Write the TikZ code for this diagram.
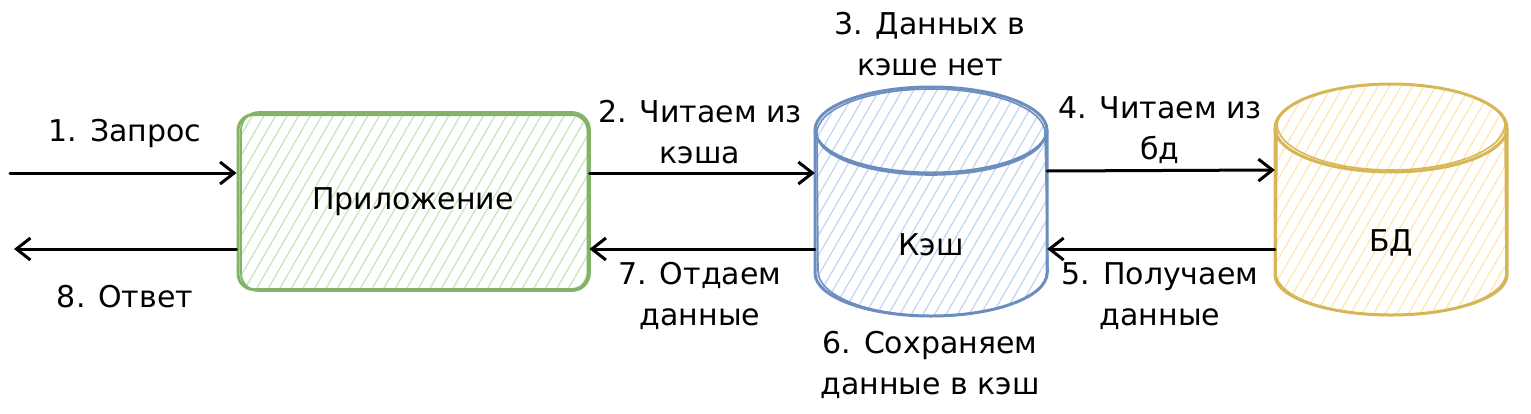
\documentclass[tikz,border=0pt]{standalone}
\usepackage{fontspec}
\setmainfont{DejaVu Sans}
\usetikzlibrary{arrows.meta,patterns.meta,calc}
\definecolor{gstroke}{HTML}{82B366}
\definecolor{ghatch}{HTML}{C9E5BD}
\definecolor{bstroke}{HTML}{6C8EBF}
\definecolor{bhatch}{HTML}{C3D7F3}
\definecolor{ystroke}{HTML}{D6B656}
\definecolor{yhatch}{HTML}{FBE9B0}
\tikzset{
  txt/.style={font=\fontsize{30}{41}\selectfont, align=center, inner sep=0pt},
  arr/.style={line width=3pt, line cap=round, -{Straight Barb[length=14pt,width=22pt,line width=3pt]}},
  hatchg/.style={pattern={Lines[angle=60,distance=10pt,line width=1.3pt]}, pattern color=ghatch},
  hatchb/.style={pattern={Lines[angle=60,distance=10pt,line width=1.3pt]}, pattern color=bhatch},
  hatchy/.style={pattern={Lines[angle=60,distance=10pt,line width=1.3pt]}, pattern color=yhatch},
  holder/.style={txt, minimum width=232pt},
}
\begin{document}
\begin{tikzpicture}[x=1pt,y=-1pt]
\useasboundingbox (0,0) rectangle (1531,413);
% application
\node[txt, hatchg, draw=gstroke, line width=3pt, rounded corners=16pt,
      minimum width=350pt, minimum height=175pt] (app) at (413,202) {Приложение};
\draw[gstroke, line width=1.8pt, rounded corners=18pt] (241,112) rectangle (590,291);
% cache cylinder
\fill[hatchb] (815,130) -- (815,273) arc (180:360:116pt and 43pt) -- (1047,130) arc (0:180:116pt and 43pt) -- cycle;
\draw[bstroke, line width=3pt, line join=round] (815,130) -- (815,273) arc (180:360:116pt and 43pt) -- (1047,130) arc (0:180:116pt and 43pt) -- cycle;
\draw[bstroke, line width=3pt] (815,130) arc (180:360:116pt and 43pt);
\draw[bstroke, line width=1.6pt] (817,127) -- (818,271) arc (180:360:115pt and 45pt) -- (1045,133) arc (0:180:114pt and 44pt);
\draw[bstroke, line width=1.6pt] (817,134) arc (180:360:114pt and 41pt);
\node[holder] (cache) at (931,245) {Кэш};
% db cylinder
\fill[hatchy] (1275,128) -- (1275,275) arc (180:360:116pt and 40pt) -- (1507,128) arc (0:180:116pt and 44pt) -- cycle;
\draw[ystroke, line width=3pt, line join=round] (1275,128) -- (1275,275) arc (180:360:116pt and 40pt) -- (1507,128) arc (0:180:116pt and 44pt) -- cycle;
\draw[ystroke, line width=3pt] (1275,128) arc (180:360:116pt and 44pt);
\draw[ystroke, line width=1.6pt] (1277,131) -- (1276,273) arc (180:360:115pt and 42pt) -- (1505,126) arc (0:180:114pt and 42pt);
\draw[ystroke, line width=1.6pt] (1277,124) arc (180:360:114pt and 46pt);
\node[holder] (db) at (1391,243) {БД};
% free ends
\coordinate (inp) at (10,173);
\coordinate (outp) at (14,249);
% connectors
\draw[arr] (inp) -- ($(app.west)+(0,-29)$);
\draw[arr] ($(app.west)+(0,47)$) -- (outp);
\draw[arr] ($(app.east)+(0,-29)$) -- ($(cache.west)+(0,-72)$);
\draw[arr] ($(cache.west)+(0,4)$) -- ($(app.east)+(0,47)$);
\draw[arr] ($(cache.east)+(0,-74)$) -- ($(db.west)+(0,-73)$);
\draw[arr] ($(db.west)+(0,6)$) -- ($(cache.east)+(0,4)$);
% labels
\node[txt] (l1) at (125,133) {1. Запрос};
\node[txt] (l8) at (125,297) {8. Ответ};
\node[txt] (l2) at (700,132) {2. Читаем из\\кэша};
\node[txt] (l7) at (700,296) {7. Отдаем\\данные};
\node[txt] (l3) at (930,44) {3. Данных в\\кэше нет};
\node[txt] (l4) at (1160,130) {4. Читаем из\\бд};
\node[txt] (l5) at (1160,296) {5. Получаем\\данные};
\node[txt] (l6) at (930,365) {6. Сохраняем\\данные в кэш};
\end{tikzpicture}
\end{document}
